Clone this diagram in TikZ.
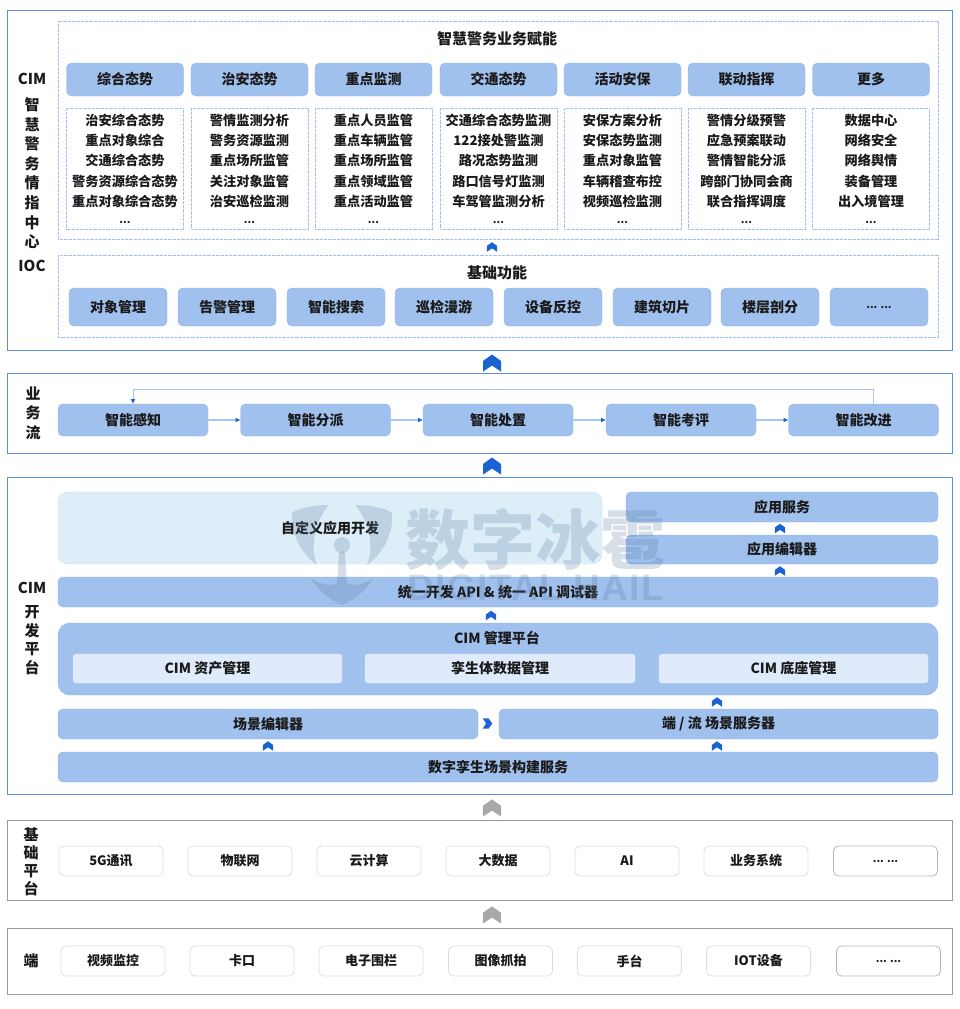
\documentclass[tikz,border=0pt]{standalone}
\usepackage{fontspec}
\setmainfont{Noto Sans CJK SC}
\newfontfamily\wmfont{Noto Sans CJK SC}
\newfontfamily\wmlatin{Liberation Sans}[LetterSpace=4]
\usetikzlibrary{arrows.meta}
\definecolor{edgeblue}{HTML}{5B8FDC}
\definecolor{dotblue}{HTML}{A3C1F0}
\definecolor{barblue}{HTML}{A0C0EE}
\definecolor{barline}{HTML}{90B5EA}
\definecolor{paleblue}{HTML}{DFEAFA}
\definecolor{skyfill}{HTML}{DDEEF9}
\definecolor{skyline}{HTML}{C3E1F2}
\definecolor{tipblue}{HTML}{1B62D3}
\definecolor{flowline}{HTML}{A9C6F0}
\definecolor{edgegray}{HTML}{9A9A9A}
\definecolor{mutegray}{HTML}{A8A8A8}
\definecolor{inkblack}{HTML}{1A1A1A}
\definecolor{marksteel}{HTML}{5D7FA3}
\newcommand{\dotsmall}[1]{{\fontsize{10.5}{12}\selectfont #1}}
\tikzset{
  plane/.style={draw=edgeblue, line width=1pt},
  planegray/.style={draw=edgegray, line width=1pt},
  dotbox/.style={draw=dotblue, dash pattern=on 1pt off 0.3pt, line width=1pt},
  tab/.style={draw=barline, fill=barblue, rounded corners=5pt, inner sep=0pt, outer sep=0pt,
    text=inkblack, font=\fontsize{14}{16}\selectfont\bfseries},
  listbox/.style={draw=dotblue, dash pattern=on 1pt off 0.3pt, line width=0.9pt, inner sep=0pt, outer sep=0pt,
    align=center, text=inkblack, font=\fontsize{13.2}{20.4}\selectfont\bfseries,
    minimum width=117pt, minimum height=121pt},
  chip/.style={tab, draw=paleblue, fill=paleblue, rounded corners=3pt, minimum height=29pt},
  whitebox/.style={draw=black!13, fill=white, rounded corners=5pt, line width=0.8pt, inner sep=0pt,
    outer sep=0pt, text=inkblack, font=\fontsize{13}{16}\selectfont\bfseries, minimum width=104pt, minimum height=30pt},
  head/.style={text=inkblack, inner sep=0pt, align=center, font=\fontsize{14}{16}\selectfont\bfseries},
  title/.style={head, font=\fontsize{15}{16}\selectfont\bfseries},
  sidelabel/.style={head, font=\fontsize{15}{19.6}\selectfont\bfseries},
  flow/.style={draw=flowline, line width=1.3pt, -{Latex[length=5pt,width=5pt,color=tipblue]}},
  pics/chevron/.style={code={
    \fill[pic actions] (0,-8.5) -- (9,-2) -- (9,8.5) -- (0,2.5) -- (-9,8.5) -- (-9,-2) -- cycle;}},
  bigchev/.style={fill=tipblue},
  smallchev/.style={fill=tipblue, scale=0.56},
  graychev/.style={fill=mutegray, scale=1.02},
}
\begin{document}
\begin{tikzpicture}[x=1pt, y=-1pt]
  \useasboundingbox (0,0) rectangle (960,1009);

  \draw [plane] (7,10) rectangle (952,350);
  \draw [plane] (7,373) rectangle (952,453);
  \draw [plane] (7,477) rectangle (952,794);
  \draw [planegray] (7,820) rectangle (952,900);
  \draw [planegray] (7,928) rectangle (952,994);

  \draw [dotbox] (58,21) rectangle (938,239);
  \draw [dotbox] (58,255) rectangle (938,337);

  \node [sidelabel] (labelioc) at (32,172.5) {CIM\\[6.4pt]智\\慧\\警\\务\\情\\指\\中\\心\\[4.4pt]IOC};
  \node [sidelabel] (labelflow) at (33,413) {业\\务\\流};
  \node [sidelabel, font=\fontsize{15}{18.5}\selectfont\bfseries] (labeldev) at (32,628.5) {CIM\\[6pt]开\\发\\平\\台};
  \node [sidelabel, font=\fontsize{15}{18}\selectfont\bfseries] (labelbase) at (31,862) {基\\础\\平\\台};
  \node [sidelabel] (labelend) at (31,961) {端};

  \node [title] (titlecap) at (497,39) {智慧警务业务赋能};
  \node [title] (titlebase) at (497,273) {基础功能};

  \foreach \name/\x/\txt in {a/125/综合态势, b/249.5/治安态势, c/373.5/重点监测, d/498.5/交通态势,
      e/622.5/活动安保, f/746.5/联动指挥, g/871/更多}
    \node [tab, minimum width=117pt, minimum height=33pt] (tab\name) at (\x,79.5) {\txt};

  \node [listbox] (lista) at (125,168.5) {治安综合态势\\重点对象综合\\交通综合态势\\警务资源综合态势\\重点对象综合态势\\[-4pt]\dotsmall{...}};
  \node [listbox] (listb) at (249.5,168.5) {警情监测分析\\警务资源监测\\重点场所监管\\关注对象监管\\治安巡检监测\\[-4pt]\dotsmall{...}};
  \node [listbox] (listc) at (373.5,168.5) {重点人员监管\\重点车辆监管\\重点场所监管\\重点领域监管\\重点活动监管\\[-4pt]\dotsmall{...}};
  \node [listbox] (listd) at (498.5,168.5) {交通综合态势监测\\122接处警监测\\路况态势监测\\路口信号灯监测\\车驾管监测分析\\[-4pt]\dotsmall{...}};
  \node [listbox] (liste) at (622.5,168.5) {安保方案分析\\安保态势监测\\重点对象监管\\车辆稽查布控\\视频巡检监测\\[-4pt]\dotsmall{...}};
  \node [listbox] (listf) at (746.5,168.5) {警情分级预警\\应急预案联动\\警情智能分派\\跨部门协同会商\\联合指挥调度\\[-4pt]\dotsmall{...}};
  \node [listbox] (listg) at (871,168.5) {数据中心\\网络安全\\网络舆情\\装备管理\\出入境管理\\[-4pt]\dotsmall{...}};

  \foreach \name/\x/\txt in {a/118/对象管理, b/227/告警管理, c/336/智能搜索, d/444/巡检漫游,
      e/553/设备反控, f/662/建筑切片, g/770/楼层剖分}
    \node [tab, minimum width=98pt, minimum height=38pt] (func\name) at (\x,307) {\txt};
  \node [tab, minimum width=98pt, minimum height=38pt] (funch) at (879,307) {\dotsmall{... ...}};

  \foreach \name/\x/\txt in {sense/133/智能感知, assign/315.5/智能分派, handle/498/智能处置,
      assess/681/智能考评, improve/863.5/智能改进}
    \node [tab, minimum width=150pt, minimum height=32pt] (\name) at (\x,420) {\txt};
  \draw [flow] (sense) -- (assign);
  \draw [flow] (assign) -- (handle);
  \draw [flow] (handle) -- (assess);
  \draw [flow] (assess) -- (improve);
  \draw [flow, line width=1pt] ([xshift=9.5pt]improve.north) -- ++(0,-15) -| (sense.north);

  \node [tab, draw=skyline, fill=skyfill, rounded corners=10pt, minimum width=544pt, minimum height=72pt] (custom) at (330,528) {};
  \node [head] (customtext) at (330,528) {自定义应用开发};
  \node [tab, minimum width=312pt, minimum height=30pt] (appserve) at (782,507) {应用服务};
  \node [tab, minimum width=312pt, minimum height=29pt] (appedit) at (782,549.5) {应用编辑器};
  \node [tab, minimum width=880pt, minimum height=30pt] (unifyapi) at (498,592) {统一开发 API \& 统一 API 调试器};

  \node [tab, rounded corners=12pt, minimum width=880pt, minimum height=72pt] (cimplat) at (498,659) {};
  \node [head] (cimtitle) at (497,638) {CIM 管理平台};
  \node [chip, minimum width=269pt] (cimasset) at (207.5,668.5) {CIM 资产管理};
  \node [chip, minimum width=270pt] (cimtwin) at (500,668.5) {孪生体数据管理};
  \node [chip, minimum width=269pt] (cimbase) at (793.5,668.5) {CIM 底座管理};

  \node [tab, minimum width=420pt, minimum height=30pt] (sceneedit) at (268,724) {场景编辑器};
  \node [tab, minimum width=439pt, minimum height=30pt] (sceneserve) at (718.5,724) {端 / 流 场景服务器};
  \node [tab, minimum width=880pt, minimum height=30pt] (twinbuild) at (498,767) {数字孪生场景构建服务};

  \foreach \name/\x/\txt in {a/111/5G通讯, b/240/物联网, c/369/云计算, d/498/大数据, e/627/AI, f/756/业务系统}
    \node [whitebox] (basebox\name) at (\x,861) {\txt};
  \node [whitebox, draw=black!28] (baseboxg) at (885.5,861) {\dotsmall{... ...}};

  \foreach \name/\x/\txt in {a/113/视频监控, b/242/卡口, c/371/电子围栏, d/500.5/图像抓拍, e/629.5/手台, f/758.5/IOT设备}
    \node [whitebox] (endbox\name) at (\x,961) {\txt};
  \node [whitebox, draw=black!28] (endboxg) at (888.5,961) {\dotsmall{... ...}};

  \pic [bigchev] at (492,363) {chevron};
  \pic [bigchev] at (492,466) {chevron};
  \pic [graychev] at (492,808) {chevron};
  \pic [graychev] at (492,915) {chevron};
  \pic [smallchev] at (492,247) {chevron};
  \pic [smallchev] at (780,528.5) {chevron};
  \pic [smallchev] at (780,571) {chevron};
  \pic [smallchev] at (491,615.5) {chevron};
  \pic [smallchev] at (717,702) {chevron};
  \pic [smallchev] at (268,746) {chevron};
  \pic [smallchev] at (717,746) {chevron};
  \pic [smallchev, rotate=-90] at (487.5,723.5) {chevron};

  \begin{scope}[opacity=0.25]
    \node [text=marksteel, inner sep=0pt] (markcn) at (535,540) {\wmfont\fontsize{65}{65}\selectfont\bfseries 数字冰雹};
    \node [text=marksteel, inner sep=0pt] (marken) at (536,588) {\wmlatin\fontsize{37}{37}\selectfont\bfseries DIGITAL HAIL};
    \foreach \s in {1,-1}{
      \begin{scope}[shift={(342,0)}, xscale=\s]
        \fill [marksteel] (13,505) .. controls (28,505) and (44,508) .. (50,513)
          .. controls (52,530) and (43,552) .. (25,565)
          .. controls (32,548) and (28,522) .. (13,505) -- cycle;
        \fill [marksteel] (0,605) .. controls (12,600) and (25,590) .. (31,578)
          .. controls (20,586) and (9,586) .. (5,583) -- (3,553) -- (0,551) -- cycle;
      \end{scope}
    }
    \fill [marksteel] (342,545) circle (8pt);
  \end{scope}
\end{tikzpicture}
\end{document}
